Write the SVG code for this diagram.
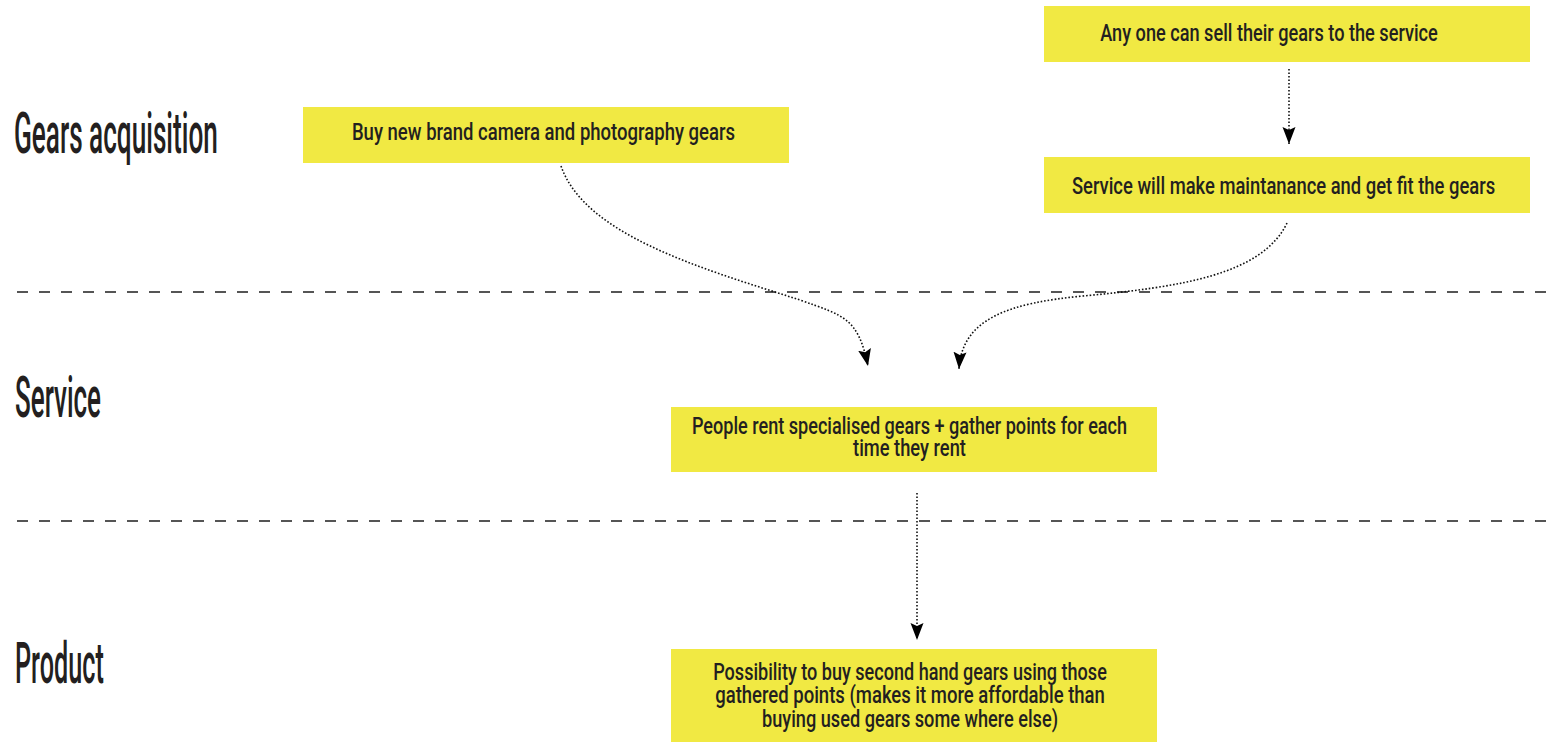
<svg xmlns="http://www.w3.org/2000/svg" width="1565" height="742" viewBox="0 0 1565 742">
  <style>
    .box { fill: #f1e943; }
    .txt { font-family: Roboto, "Liberation Sans", Arial, sans-serif; font-weight: 500; font-size: 23px; fill: #231f20; text-anchor: middle; }
    .lane { font-family: Roboto, "Liberation Sans", Arial, sans-serif; font-weight: 500; font-size: 57px; fill: #231f20; }
    .divider { stroke: #1e1e1e; stroke-width: 1.4; stroke-dasharray: 11 11; fill: none; }
    .flow { stroke: #111; stroke-width: 1.6; stroke-dasharray: 1.6 1.9; fill: none; marker-end: url(#arrow); }
  </style>
  <defs>
    <marker id="arrow" markerUnits="userSpaceOnUse" markerWidth="18" markerHeight="14" refX="17" refY="7" orient="auto">
      <path d="M0,0.5 L17,7 L0,13.5 L3,7 z" fill="#000"/>
    </marker>
  </defs>

  <rect width="1565" height="742" fill="#fff"/>

  <!-- swimlane dividers -->
  <g id="dividers">
    <line class="divider" x1="17" y1="292" x2="1557" y2="292"/>
    <line class="divider" x1="17" y1="521" x2="1557" y2="521"/>
  </g>

  <!-- lane titles: tall condensed lettering -->
  <g id="lane-titles">
    <text class="lane" transform="translate(14,153) scale(0.46,1)" textLength="443" lengthAdjust="spacingAndGlyphs">Gears acquisition</text>
    <text class="lane" transform="translate(15,417) scale(0.46,1)" textLength="187" lengthAdjust="spacingAndGlyphs">Service</text>
    <text class="lane" transform="translate(15,683) scale(0.46,1)" textLength="193" lengthAdjust="spacingAndGlyphs">Product</text>
  </g>

  <!-- connectors -->
  <g id="connectors">
    <path class="flow" d="M561,166 C585,235 700,268 800,300 C845,316 858,318 868,366"/>
    <path class="flow" d="M1287,223 C1262,275 1180,287 1083,296 C1010,303 962,318 959,369"/>
    <path class="flow" d="M1289,69 L1289,144"/>
    <path class="flow" d="M917,493 L917,640"/>
  </g>

  <g id="node-buy-new">
    <rect class="box" x="303" y="107" width="486" height="56"/>
    <text class="txt" transform="translate(543.5,140) scale(0.8,1)" textLength="479" lengthAdjust="spacingAndGlyphs">Buy new brand camera and photography gears</text>
  </g>

  <g id="node-sell-gears">
    <rect class="box" x="1044" y="6" width="486" height="56"/>
    <text class="txt" transform="translate(1269,41) scale(0.8,1)" textLength="422" lengthAdjust="spacingAndGlyphs">Any one can sell their gears to the service</text>
  </g>

  <g id="node-maintenance">
    <rect class="box" x="1044" y="157" width="486" height="56"/>
    <text class="txt" transform="translate(1283.5,194) scale(0.8,1)" textLength="529" lengthAdjust="spacingAndGlyphs">Service will make maintanance and get fit the gears</text>
  </g>

  <g id="node-rent">
    <rect class="box" x="671" y="407" width="486" height="65"/>
    <text class="txt" transform="translate(909.5,434) scale(0.8,1)" textLength="544" lengthAdjust="spacingAndGlyphs">People rent specialised gears + gather points for each</text>
    <text class="txt" transform="translate(909.5,456) scale(0.8,1)" textLength="141" lengthAdjust="spacingAndGlyphs">time they rent</text>
  </g>

  <g id="node-second-hand">
    <rect class="box" x="671" y="649" width="486" height="93"/>
    <text class="txt" transform="translate(910,680) scale(0.8,1)" textLength="492" lengthAdjust="spacingAndGlyphs">Possibility to buy second hand gears using those</text>
    <text class="txt" transform="translate(910,703) scale(0.8,1)" textLength="487" lengthAdjust="spacingAndGlyphs">gathered points (makes it more affordable than</text>
    <text class="txt" transform="translate(910,727) scale(0.8,1)" textLength="370" lengthAdjust="spacingAndGlyphs">buying used gears some where else)</text>
  </g>
</svg>
